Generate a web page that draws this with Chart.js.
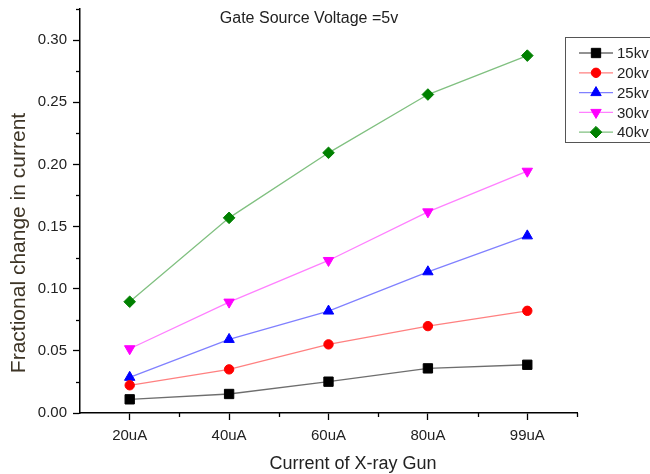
<!DOCTYPE html>
<html><head><meta charset="utf-8">
<script src="https://cdn.jsdelivr.net/npm/chart.js@4.4.1/dist/chart.umd.min.js"></script>
<style>html,body{margin:0;padding:0;background:#fff;}#wrap{width:650px;height:474px;}</style>
</head><body><div id="wrap"><canvas id="c" width="650" height="474"></canvas></div>
<script>
const xLabels = ['20uA', '40uA', '60uA', '80uA', '99uA'];
const seriesNames = ['15kv', '20kv', '25kv', '30kv', '40kv'];
const s15kv = [0.0110, 0.0153, 0.0252, 0.0359, 0.0388];
const s20kv = [0.0223, 0.0351, 0.0552, 0.0699, 0.0822];
const s25kv = [0.0287, 0.0592, 0.0820, 0.1136, 0.1425];
const s30kv = [0.0517, 0.0892, 0.1227, 0.1618, 0.1945];
const s40kv = [0.0895, 0.1570, 0.2093, 0.2562, 0.2875];
const chartTitle = 'Gate Source Voltage =5v';
const xTitle = 'Current of X-ray Gun';
const yTitle = 'Fractional change in current';

const FONT = '"Liberation Sans", Arial, sans-serif';
const toPts = arr => arr.map((v, i) => ({ x: i + 1, y: v }));

const styles = [
  { line: '#6e6e6e', mark: '#000000', shape: 'rect', r: 6.6, rot: 0 },
  { line: '#ff8080', mark: '#ff0000', shape: 'circle', r: 4.7, rot: 0 },
  { line: '#8080ff', mark: '#0000ff', shape: 'triangle', r: 6, rot: 0 },
  { line: '#ff80ff', mark: '#ff00ff', shape: 'triangle', r: 6, rot: 180 },
  { line: '#80c080', mark: '#008000', shape: 'rectRot', r: 5.8, rot: 0 }
];
const seriesValues = [s15kv, s20kv, s25kv, s30kv, s40kv];

const datasets = seriesValues.map((vals, i) => ({
  label: seriesNames[i],
  data: toPts(vals),
  borderColor: styles[i].line,
  borderWidth: 1.3,
  pointStyle: styles[i].shape,
  pointRadius: styles[i].r,
  pointHoverRadius: styles[i].r,
  pointRotation: styles[i].rot,
  pointBackgroundColor: styles[i].mark,
  pointBorderColor: styles[i].mark,
  pointBorderWidth: 1,
  tension: 0,
  fill: false
}));

function drawMarker(ctx, st, x, y) {
  const opts = { pointStyle: st.shape, radius: st.r, rotation: st.rot, borderWidth: 1 };
  ctx.save();
  ctx.fillStyle = st.mark; ctx.strokeStyle = st.mark; ctx.lineWidth = 1;
  if (Chart.helpers && Chart.helpers.drawPoint) {
    Chart.helpers.drawPoint(ctx, opts, x, y);
  } else {
    ctx.beginPath(); ctx.arc(x, y, st.r, 0, Math.PI * 2); ctx.fill();
  }
  ctx.restore();
}

const overlay = {
  id: 'overlay',
  afterDraw(chart) {
    const ctx = chart.ctx;
    const xs = chart.scales.x, ys = chart.scales.y;
    const area = chart.chartArea;
    ctx.save();
    // minor ticks
    ctx.strokeStyle = '#000'; ctx.lineWidth = 1.3;
    ys.ticks.forEach((t, i) => {
      if (i % 2 === 1) {
        const py = Math.round(ys.getPixelForValue(t.value)) + 0.5;
        ctx.beginPath(); ctx.moveTo(area.left - 4, py); ctx.lineTo(area.left, py); ctx.stroke();
      }
    });
    xs.ticks.forEach((t, i) => {
      if (Math.abs(t.value - Math.round(t.value)) > 0.01 && i > 0) {
        const px = Math.round(xs.getPixelForValue(t.value)) + 0.5;
        ctx.beginPath(); ctx.moveTo(px, area.bottom); ctx.lineTo(px, area.bottom + 4); ctx.stroke();
      }
    });
    // title
    ctx.fillStyle = '#222';
    ctx.textAlign = 'center'; ctx.textBaseline = 'middle';
    ctx.font = '16px ' + FONT;
    ctx.fillText(chartTitle, 309, 19);
    // x title
    ctx.font = '18px ' + FONT;
    ctx.fillText(xTitle, 353, 464);
    // y title
    ctx.save();
    ctx.translate(19, 243);
    ctx.rotate(-Math.PI / 2);
    ctx.fillStyle = '#3e3526';
    ctx.font = '21px ' + FONT;
    ctx.fillText(yTitle, 0, 0);
    ctx.restore();
    // legend
    ctx.strokeStyle = '#555'; ctx.lineWidth = 1;
    ctx.strokeRect(565.5, 37.5, 100, 105);
    ctx.font = '15px ' + FONT;
    ctx.textAlign = 'left'; ctx.textBaseline = 'middle';
    chart.data.datasets.forEach((ds, i) => {
      const y = 53 + i * 19.8;
      ctx.strokeStyle = styles[i].line; ctx.lineWidth = 1.3;
      ctx.beginPath(); ctx.moveTo(579, y); ctx.lineTo(613, y); ctx.stroke();
      drawMarker(ctx, styles[i], 596, y);
      ctx.fillStyle = '#222';
      ctx.fillText(ds.label, 617, y + 1);
    });
    ctx.restore();
  }
};

new Chart(document.getElementById('c'), {
  type: 'line',
  data: { datasets },
  options: {
    responsive: false,
    animation: false,
    layout: { padding: { top: 9, right: 73, left: 0, bottom: 0 } },
    plugins: { legend: { display: false }, title: { display: false }, tooltip: { enabled: false } },
    scales: {
      x: {
        type: 'linear', min: 0.5, max: 5.5,
        afterFit: s => { s.height = 61; s.paddingLeft = 0; s.paddingRight = 0; },
        afterBuildTicks: s => {
          const arr = [];
          for (let v = 0.5; v <= 5.51; v += 0.5) arr.push({ value: Math.round(v * 10) / 10 });
          s.ticks = arr;
        },
        ticks: {
          autoSkip: false, maxRotation: 0, padding: 7, color: '#222',
          font: { family: FONT, size: 15 },
          callback: v => (Math.abs(v - Math.round(v)) < 0.01 ? xLabels[Math.round(v) - 1] : '')
        },
        grid: {
          drawOnChartArea: false, drawTicks: true, tickLength: 7, tickWidth: 1.3,
          tickColor: c => (c.tick && Math.abs(c.tick.value - Math.round(c.tick.value)) < 0.01 ? '#000' : 'rgba(0,0,0,0)')
        },
        border: { display: true, color: '#000', width: 1.5 }
      },
      y: {
        min: 0, max: 0.325,
        afterFit: s => { s.width = 80; s.paddingTop = 0; s.paddingBottom = 0; },
        afterBuildTicks: s => {
          const arr = [];
          for (let i = 0; i <= 13; i++) arr.push({ value: Math.round(i * 25) / 1000 });
          s.ticks = arr;
        },
        ticks: {
          autoSkip: false, padding: 6, color: '#222',
          font: { family: FONT, size: 15 },
          callback: (v, i) => (i % 2 === 0 ? Number(v).toFixed(2) : '')
        },
        grid: {
          drawOnChartArea: false, drawTicks: true, tickLength: 7, tickWidth: 1.3,
          tickColor: c => (c.index % 2 === 0 ? '#000' : 'rgba(0,0,0,0)')
        },
        border: { display: true, color: '#000', width: 1.5 }
      }
    }
  },
  plugins: [overlay]
});
</script>
</body></html>
